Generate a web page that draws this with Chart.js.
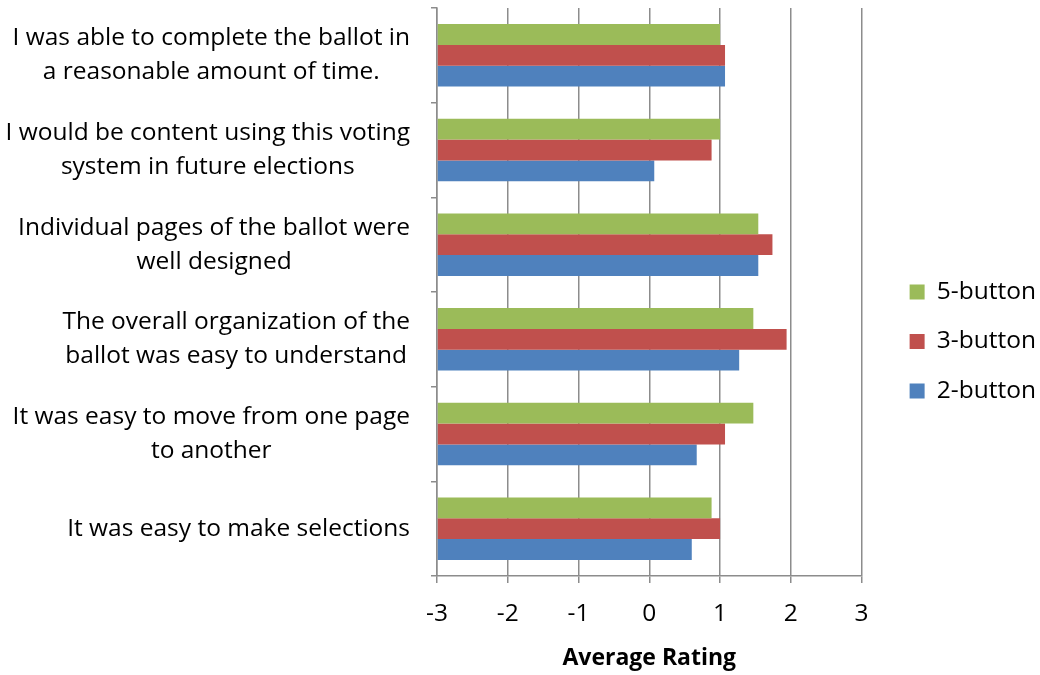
<!DOCTYPE html>
<html>
<head>
<meta charset="utf-8">
<script src="https://cdn.jsdelivr.net/npm/chart.js@4/dist/chart.umd.min.js"></script>
<style>
html, body { margin: 0; padding: 0; background: #fff; }
#wrap { width: 1040px; height: 675px; }
</style>
</head>
<body>
<div id="wrap"><canvas id="myChart"></canvas></div>
<script>
const questions = [
    ['I was able to complete the ballot in', 'a reasonable amount of time.'],
    ['I would be content using this voting', 'system in future elections'],
    ['Individual pages of the ballot were', 'well designed'],
    ['The overall organization of the', 'ballot was easy to understand'],
    ['It was easy to move from one page', 'to another'],
    ['It was easy to make selections']
];
const seriesNames = ['5-button', '3-button', '2-button'];
const fiveButton = [1.0, 1.0, 1.54, 1.47, 1.47, 0.88];
const threeButton = [1.07, 0.88, 1.74, 1.94, 1.07, 1.0];
const twoButton = [1.07, 0.07, 1.54, 1.27, 0.67, 0.6];
const ratingTicks = [-3, -2, -1, 0, 1, 2, 3];

const FONT = '"Open Sans"';
const FONT_SIZE = 24.5;
const gridColor = '#8c8c8c';

// draws the question labels: each one centred on itself, block right-aligned to the axis
const questionLabels = {
    id: 'questionLabels',
    afterDraw(chart) {
        const ctx = chart.ctx;
        const yScale = chart.scales.y;
        ctx.save();
        ctx.font = FONT_SIZE + 'px ' + FONT;
        ctx.fillStyle = '#000';
        ctx.textAlign = 'center';
        ctx.textBaseline = 'middle';
        questions.forEach(function(lines, i) {
            const y = yScale.getPixelForValue(i);
            const widest = Math.max(...lines.map(l => ctx.measureText(l).width));
            const cx = yScale.right - 27 - widest / 2;
            lines.forEach(function(line, j) {
                ctx.fillText(line, cx, y + (j - (lines.length - 1) / 2) * 34);
            });
        });
        ctx.restore();
    }
};

// push the legend a bit further from the plot, like the original
const legendShift = {
    id: 'legendShift',
    afterLayout(chart) {
        if (chart.legend) {
            chart.legend.left += 23;
            chart.legend.right += 23;
        }
    }
};

const myChart = new Chart('myChart', {
    type: 'bar',
    data: {
        labels: questions,
        datasets: [
            { label: seriesNames[0], data: fiveButton, backgroundColor: '#9bbb59' },
            { label: seriesNames[1], data: threeButton, backgroundColor: '#c0504d' },
            { label: seriesNames[2], data: twoButton, backgroundColor: '#4f81bd' }
        ]
    },
    options: {
        indexAxis: 'y',
        responsive: true,
        maintainAspectRatio: false,
        animation: false,
        datasets: {
            bar: {
                base: -3,
                categoryPercentage: 0.66,
                barPercentage: 1,
                borderWidth: 0
            }
        },
        layout: {
            padding: { top: 8, right: 17, bottom: 0, left: 0 }
        },
        plugins: {
            tooltip: { enabled: false },
            legend: {
                position: 'right',
                labels: {
                    boxWidth: 15,
                    boxHeight: 15,
                    padding: 25,
                    color: '#000',
                    font: { family: FONT, size: FONT_SIZE }
                }
            }
        },
        scales: {
            x: {
                min: -3,
                max: 3,
                afterBuildTicks(scale) {
                    scale.ticks = ratingTicks.map(v => ({ value: v }));
                },
                grid: { color: gridColor, lineWidth: 1.5, tickLength: 7 },
                border: { color: gridColor, width: 1.5 },
                ticks: {
                    color: '#000',
                    padding: 16,
                    font: { family: FONT, size: FONT_SIZE }
                },
                title: {
                    display: true,
                    text: 'Average Rating',
                    color: '#000',
                    padding: { top: 0, bottom: 3 },
                    font: { family: FONT, size: 23, weight: 'bold' }
                }
            },
            y: {
                afterFit(scale) {
                    scale.width = 437;
                },
                grid: {
                    offset: true,
                    drawOnChartArea: false,
                    color: gridColor,
                    lineWidth: 1.5,
                    tickLength: 6
                },
                border: { color: gridColor, width: 1.5 },
                ticks: { display: false }
            }
        }
    },
    plugins: [questionLabels, legendShift]
});
</script>
</body>
</html>
